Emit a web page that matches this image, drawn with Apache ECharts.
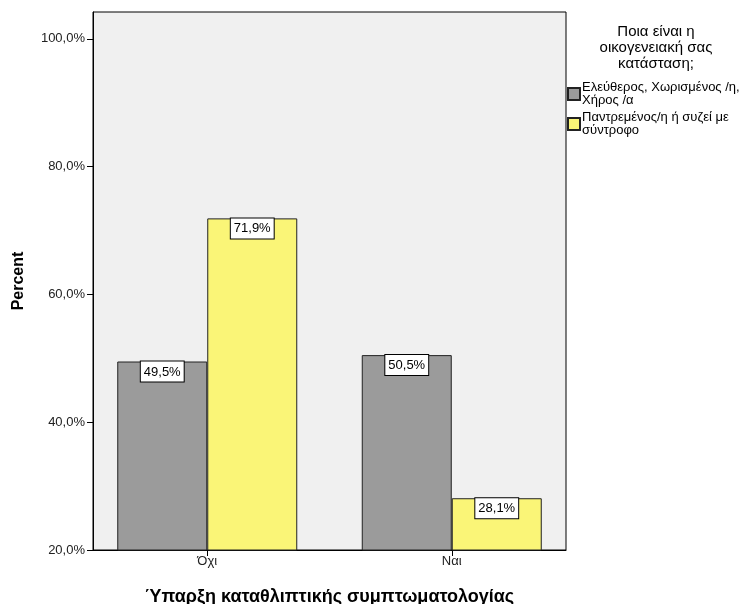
<html>
    <head>
        <meta charset="utf-8">
        <script src="https://cdn.jsdelivr.net/npm/echarts@6/dist/echarts.min.js"></script>
    </head>
    <body>
        <style>
            html, body, #main {
                width: 100%;
                height: 100%;
                margin: 0;
                background: #fff;
            }
        </style>
        <div id="main"></div>
        <script>
            var categories = ['Όχι', 'Ναι'];
            var seriesNames = ['Ελεύθερος, Χωρισμένος /η,\nΧήρος /α', 'Παντρεμένος/η ή συζεί με\nσύντροφο'];
            var singleValues = [49.5, 50.5];
            var marriedValues = [71.9, 28.1];
            var yTicks = [20, 40, 60, 80, 100];
            var yMin = 20, yMax = 104.2;

            var font = 'Liberation Sans, Arial, sans-serif';
            var chart = echarts.init(document.getElementById('main'));

            function pct(v) {
                return v.toFixed(1).replace('.', ',') + '%';
            }

            var barLabel = {
                show: true,
                position: 'insideTop',
                distance: 0,
                formatter: function (p) { return pct(p.value); },
                color: '#000',
                fontFamily: font,
                fontSize: 13,
                backgroundColor: '#fff',
                borderColor: '#000',
                borderWidth: 1,
                padding: [4, 3, 3, 3]
            };

            chart.setOption({
                animation: false,
                graphic: [{
                    type: 'text',
                    x: 656,
                    y: 24,
                    style: {
                        text: 'Ποια είναι η\nοικογενειακή σας\nκατάσταση;',
                        align: 'center',
                        font: '15px ' + font,
                        lineHeight: 16,
                        fill: '#000'
                    }
                }],
                legend: {
                    orient: 'vertical',
                    left: 567,
                    top: 81,
                    padding: 0,
                    itemWidth: 12,
                    itemHeight: 12,
                    itemGap: 4,
                    icon: 'rect',
                    textStyle: {
                        fontFamily: font,
                        fontSize: 13,
                        lineHeight: 13,
                        color: '#000',
                        padding: [0, 0, 0, -3]
                    },
                    data: seriesNames
                },
                // grid 0: the framed plot box with the y axis
                // grid 1: slightly wider band layout so the bar groups sit where SPSS put them
                grid: [{
                    left: 93,
                    right: 178,
                    top: 12,
                    bottom: 54,
                    outerBoundsMode: 'none',
                    show: true,
                    backgroundColor: '#f0f0f0',
                    borderColor: '#000',
                    borderWidth: 1
                }, {
                    left: 85,
                    right: 170,
                    top: 12,
                    bottom: 54,
                    outerBoundsMode: 'none'
                }],
                xAxis: [{
                    gridIndex: 0,
                    type: 'category',
                    data: categories,
                    name: 'Ύπαρξη καταθλιπτικής συμπτωματολογίας',
                    nameLocation: 'middle',
                    nameGap: 38,
                    nameTextStyle: {
                        fontFamily: font,
                        fontSize: 18,
                        fontWeight: 'bold',
                        color: '#000'
                    },
                    axisLine: { lineStyle: { color: '#000' } },
                    axisTick: { show: false },
                    axisLabel: { show: false }
                }, {
                    gridIndex: 1,
                    type: 'category',
                    data: categories,
                    axisLine: { show: false },
                    axisTick: { show: true, alignWithLabel: true, length: 6, lineStyle: { color: '#000' } },
                    axisLabel: { fontFamily: font, fontSize: 13, color: '#222', margin: 5 }
                }],
                yAxis: [{
                    gridIndex: 0,
                    type: 'value',
                    min: yMin,
                    max: yMax,
                    interval: 20,
                    name: 'Percent',
                    nameLocation: 'middle',
                    nameGap: 66,
                    nameTextStyle: {
                        fontFamily: font,
                        fontSize: 16,
                        fontWeight: 'bold',
                        color: '#000'
                    },
                    splitLine: { show: false },
                    axisLine: { show: true, lineStyle: { color: '#000' } },
                    axisTick: { show: true, length: 6, customValues: yTicks, lineStyle: { color: '#000' } },
                    axisLabel: {
                        customValues: yTicks,
                        fontFamily: font,
                        fontSize: 13,
                        color: '#222',
                        margin: 8,
                        formatter: function (v) { return pct(v); }
                    }
                }, {
                    gridIndex: 1,
                    type: 'value',
                    min: yMin,
                    max: yMax,
                    interval: 20,
                    show: false
                }],
                series: [{
                    name: seriesNames[0],
                    type: 'bar',
                    xAxisIndex: 1,
                    yAxisIndex: 1,
                    data: singleValues,
                    barWidth: 90,
                    barGap: '0%',
                    itemStyle: { color: '#9b9b9b', borderColor: '#222', borderWidth: 1 },
                    label: barLabel
                }, {
                    name: seriesNames[1],
                    type: 'bar',
                    xAxisIndex: 1,
                    yAxisIndex: 1,
                    data: marriedValues,
                    barWidth: 90,
                    barGap: '0%',
                    itemStyle: { color: '#faf577', borderColor: '#222', borderWidth: 1 },
                    label: barLabel
                }]
            });
        </script>
    </body>
</html>
